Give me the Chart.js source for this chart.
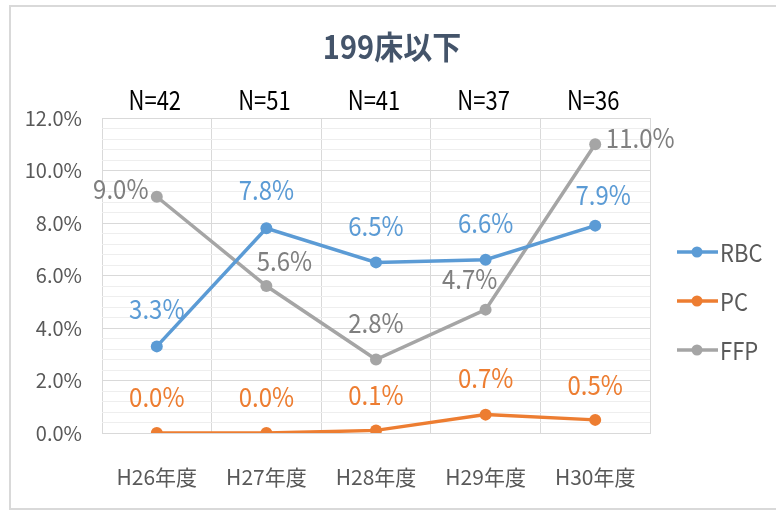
<!DOCTYPE html>
<html>
<head>
<meta charset="utf-8">
<script src="https://cdn.jsdelivr.net/npm/chart.js@4.4.1/dist/chart.umd.min.js"></script>
<style>
  html, body { margin: 0; padding: 0; background: #fff; }
  #wrap { width: 776px; height: 511px; position: relative; }
</style>
</head>
<body>
<div id="wrap"><canvas id="lineCanvas" width="776" height="511"></canvas></div>
<script>
// chart values (percent)
var labels = ['H26年度', 'H27年度', 'H28年度', 'H29年度', 'H30年度'];
var counts = ['N=42', 'N=51', 'N=41', 'N=37', 'N=36'];
var rbc = [3.3, 7.8, 6.5, 6.6, 7.9];
var pc = [0.0, 0.0, 0.1, 0.7, 0.5];
var ffp = [9.0, 5.6, 2.8, 4.7, 11.0];
var titre = '199床以下';

// where each data label sits relative to its point (dx, dy in px)
var decalRbc = [[0, -38], [0, -38], [0, -37], [0, -37], [8, -31]];
var decalPc = [[0, -36], [0, -36], [0, -36], [0, -37], [0, -35]];
var decalFfp = [[-36, -8], [18, -25], [0, -37], [-16, -31], [45, -6]];

var police = "'Noto Sans CJK JP', 'Noto Sans', sans-serif";

//text a bit taller than wide, like the original picture
function texteEtire(ctx, t, x, y, fy){
    ctx.save();
    ctx.translate(x, y);
    ctx.scale(1, fy);
    ctx.fillText(t, 0, 0);
    ctx.restore();
}

//small plugin: frame, title, N labels, data labels and legend
var dessinTexte = {
    id: 'dessinTexte',
    afterDraw: function(chart){
        var ctx = chart.ctx;
        var xs = chart.scales.x;
        ctx.save();
        //frame round the chart
        ctx.strokeStyle = '#d9d9d9';
        ctx.lineWidth = 2;
        ctx.beginPath();
        ctx.moveTo(790, 6);
        ctx.lineTo(10, 6);
        ctx.lineTo(10, 509);
        ctx.lineTo(790, 509);
        ctx.stroke();

        ctx.textAlign = 'center';
        ctx.textBaseline = 'middle';
        ctx.fillStyle = '#44546A';
        ctx.font = "bold 29px " + police;
        texteEtire(ctx, titre, 392, 47, 1.1);

        ctx.fillStyle = '#000';
        ctx.font = "22px " + police;
        for (var i = 0; i < counts.length; i++) {
            texteEtire(ctx, counts[i], xs.getPixelForValue(i) - 2, 100, 1.2);
        }

        //data labels
        ctx.font = "24px " + police;
        var lots = [[0, decalRbc, '#5B9BD5'], [1, decalPc, '#ED7D31'], [2, decalFfp, '#7F7F7F']];
        lots.forEach(function(l){
            var meta = chart.getDatasetMeta(l[0]);
            var ds = chart.data.datasets[l[0]];
            ctx.fillStyle = l[2];
            meta.data.forEach(function(pt, j){
                texteEtire(ctx, ds.data[j].toFixed(1) + '%', pt.x + l[1][j][0], pt.y + l[1][j][1], 1.12);
            });
        });

        //legend
        ctx.textAlign = 'left';
        ctx.font = "22px " + police;
        var ly = [252, 301, 350];
        chart.data.datasets.forEach(function(ds, k){
            ctx.strokeStyle = ds.borderColor;
            ctx.lineWidth = 3.5;
            ctx.beginPath();
            ctx.moveTo(677, ly[k]);
            ctx.lineTo(718, ly[k]);
            ctx.stroke();
            ctx.fillStyle = ds.borderColor;
            ctx.beginPath();
            ctx.arc(697, ly[k], 5.5, 0, Math.PI * 2);
            ctx.fill();
            ctx.fillStyle = '#595959';
            texteEtire(ctx, ds.label, 720, ly[k] + 1, 1.12);
        });
        ctx.restore();
    }
};

function estMajeur(v){
    return Math.abs(v / 2 - Math.round(v / 2)) < 1e-6;
}

const lineCanvas = document.getElementById('lineCanvas').getContext('2d');
let lineChart = new Chart(lineCanvas, {
    type: 'line',
    data: {
        labels: labels,
        datasets: [
            { label: 'RBC', data: rbc, borderColor: '#5B9BD5', backgroundColor: '#5B9BD5' },
            { label: 'PC', data: pc, borderColor: '#ED7D31', backgroundColor: '#ED7D31' },
            { label: 'FFP', data: ffp, borderColor: '#A5A5A5', backgroundColor: '#A5A5A5' }
        ]
    },
    options: {
        responsive: false,
        animation: false,
        devicePixelRatio: 1,
        layout: { padding: { left: 0, right: 126, top: 118, bottom: 0 } },
        elements: {
            line: { borderWidth: 3.5, tension: 0 },
            point: { radius: 6, hoverRadius: 6, borderWidth: 0 }
        },
        plugins: {
            legend: { display: false },
            tooltip: { enabled: false },
            title: { display: false }
        },
        scales: {
            x: {
                offset: true,
                grid: { offset: true, color: '#d9d9d9', lineWidth: 1, drawTicks: false },
                border: { display: true, color: '#d9d9d9' },
                ticks: { color: '#595959', font: { size: 21, family: police }, padding: 31, maxRotation: 0 },
                afterFit: function(s){ s.height = 78; }
            },
            y: {
                min: 0,
                max: 12,
                grid: {
                    drawTicks: false,
                    color: function(c){ return estMajeur(c.tick.value) ? '#d9d9d9' : '#eeeeee'; }
                },
                border: { display: false },
                ticks: {
                    stepSize: 0.4,
                    autoSkip: false,
                    padding: 20,
                    color: '#595959',
                    font: { size: 20, family: police },
                    callback: function(v){ return estMajeur(v) ? v.toFixed(1) + '%' : ''; }
                },
                afterFit: function(s){ s.width = 102; }
            }
        }
    },
    plugins: [dessinTexte]
});
</script>
</body>
</html>
